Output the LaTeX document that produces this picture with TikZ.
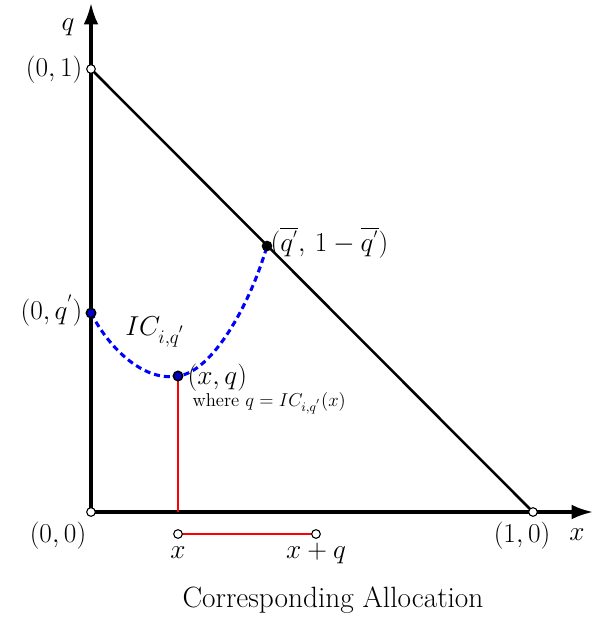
\RequirePackage{fix-cm}
\documentclass[tikz,border=0pt]{standalone}
\usetikzlibrary{arrows.meta}
\begin{document}
\begin{tikzpicture}[x=0.75pt,y=-0.75pt,
  big/.style={font=\fontsize{20.5}{24}\selectfont, inner sep=1pt},
  small/.style={font=\fontsize{14}{16}\selectfont, inner sep=1pt},
  axis/.style={line width=2.3pt, -{Latex[length=16pt,width=11pt]}},
  opendot/.style={circle, draw=black, line width=0.8pt, fill=white, minimum size=6.5pt, inner sep=0pt},
  fulldot/.style={circle, draw=black, line width=1.2pt, fill=blue!80!black, minimum size=7pt, inner sep=0pt},
  blackdot/.style={circle, fill=black, minimum size=8pt, inner sep=0pt}]
\useasboundingbox (0,0) rectangle (595,618);
% key points
\coordinate (O) at (91,512);
\coordinate (ytip) at (91,3);
\coordinate (xtip) at (593,512);
% axes
\draw[axis] (O) -- (ytip);
\draw[axis] (O) -- (xtip);
% diagonal
\coordinate (A) at (91,69);
\coordinate (B) at (533,512);
\draw[line width=1.9pt] (A) -- (B);
% red vertical
\coordinate (XQ) at (178,376);
\coordinate (Xb) at (178,512);
\draw[red, line width=2.2pt] (XQ) -- (Xb);
% red allocation segment
\coordinate (L) at (178,534);
\coordinate (R) at (316,534);
\draw[red, line width=2.2pt] (L) -- (R);
% dashed curve
\coordinate (Q0) at (91,313);
\coordinate (QB) at (267,246);
\draw[blue, line width=2.3pt, dash pattern=on 4.5pt off 3pt]
  (Q0) .. controls (110,350) and (145,382) .. (XQ)
       .. controls (212,372) and (250,305) .. (QB);
% dots
\node[opendot] (nA) at (A) {};
\node[opendot] (nO) at (O) {};
\node[opendot] (nB) at (B) {};
\node[opendot] (nL) at (L) {};
\node[opendot] (nR) at (R) {};
\node[fulldot] (nQ0) at (Q0) {};
\node[fulldot] (nXQ) at (XQ) {};
\node[blackdot] (nQB) at (QB) {};
% labels
\node[big] (lq) at (68,27) {$q$};
\node[big, anchor=east] (l01) at (84,70) {$(0,1)$};
\node[big, anchor=east] (l0q) at (84,311) {$(0,q^{'})$};
\node[big, anchor=west] (lqb) at (269,243) {$(\overline{q^{'}},\,1-\overline{q^{'}})$};
\node[big] (lic) at (155,332) {$IC_{i,q^{'}}$};
\node[big, anchor=west] (lxq) at (186,378) {$(x,q)$};
\node[small, anchor=west] (lwh) at (191,403) {where $q=IC_{i,q^{'}}(x)$};
\node[big] (l00) at (58,536) {$(0,0)$};
\node[big] (l10) at (522,536) {$(1,0)$};
\node[big] (lx) at (577,535) {$x$};
\node[big] (lxl) at (178,553) {$x$};
\node[big] (lxr) at (316,553) {$x+q$};
\node[font=\fontsize{22}{26}\selectfont, inner sep=1pt] (lca) at (333,600) {Corresponding Allocation};
\end{tikzpicture}
\end{document}
